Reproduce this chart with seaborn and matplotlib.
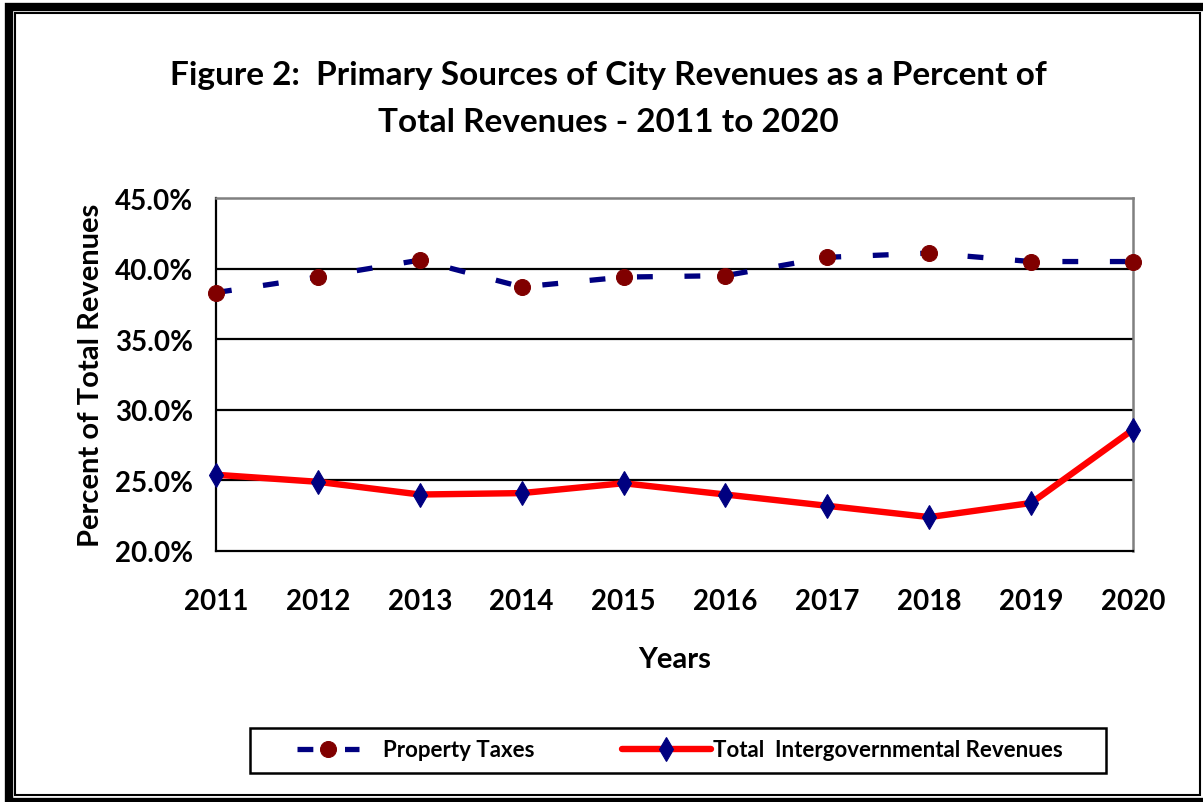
import pandas as pd
import matplotlib.pyplot as plt
import seaborn as sns
from matplotlib.patches import Rectangle
from matplotlib.ticker import PercentFormatter

# Values
years = [2011, 2012, 2013, 2014, 2015, 2016, 2017, 2018, 2019, 2020]
property_taxes = [38.3, 39.4, 40.6, 38.7, 39.4, 39.5, 40.8, 41.1, 40.5, 40.5]
intergov = [25.4, 24.9, 24.0, 24.1, 24.8, 24.0, 23.2, 22.4, 23.4, 28.6]
y_ticks = [20, 25, 30, 35, 40, 45]

df = pd.DataFrame({'year': years, 'prop': property_taxes, 'inter': intergov})

sns.set_style('white')
plt.rcParams['font.family'] = ['Lato', 'DejaVu Sans']
plt.rcParams['font.weight'] = 'bold'
for key in ['text.color', 'axes.labelcolor', 'xtick.color', 'ytick.color']:
    plt.rcParams[key] = 'black'

W, H = 1203, 803
fig = plt.figure(figsize=(W / 100, H / 100), dpi=100)
ax = fig.add_axes([216 / W, 1 - 552 / H, (1133 - 216) / W, (552 - 199) / H])

# Plot
sns.lineplot(data=df, x='year', y='prop', ax=ax, color='#000080', linewidth=3.8,
             linestyle=(0, (3, 6)), marker='o', markersize=11.5,
             markerfacecolor='#800000', markeredgecolor='#800000',
             label='Property Taxes', zorder=4, clip_on=False)
sns.lineplot(data=df, x='year', y='inter', ax=ax, color='#ff0000', linewidth=4.6,
             marker='d', markersize=12.5, markerfacecolor='#000080',
             markeredgecolor='#000080', markeredgewidth=0.8,
             label='Total  Intergovernmental Revenues', zorder=4, clip_on=False)

ax.set_xlim(years[0], years[-1])
ax.set_ylim(y_ticks[0], y_ticks[-1])
ax.set_xticks(years)
ax.set_yticks(y_ticks)
ax.yaxis.set_major_formatter(PercentFormatter(decimals=1))
for v in y_ticks[1:-1]:
    ax.axhline(v, color='black', linewidth=1.6, zorder=1)

for side in ['left', 'bottom']:
    ax.spines[side].set_color('black')
    ax.spines[side].set_linewidth(1.6)
for side in ['top', 'right']:
    ax.spines[side].set_color('#808080')
    ax.spines[side].set_linewidth(1.8)
ax.tick_params(axis='both', direction='out', width=1.6, color='black', labelsize=20)
ax.tick_params(axis='y', length=6.5, pad=10)
ax.tick_params(axis='x', length=8, pad=19)
for lab in ax.get_xticklabels() + ax.get_yticklabels():
    lab.set_fontweight('bold')

ax.set_xlabel('Years', fontsize=21, fontweight='bold', labelpad=23)
ax.set_ylabel('Percent of Total Revenues', fontsize=21, fontweight='bold', labelpad=8)

fig.text(608 / W, 1 - 75 / H, 'Figure 2:  Primary Sources of City Revenues as a Percent of',
         ha='center', va='center', fontsize=24, fontweight='bold')
fig.text(608 / W, 1 - 123 / H, 'Total Revenues - 2011 to 2020',
         ha='center', va='center', fontsize=24, fontweight='bold')

# legend: one frame, two entries with their own handle lengths
handles, labels = ax.get_legend_handles_labels()
ax.get_legend().remove()
fig.patches.append(Rectangle((250 / W, 1 - 774 / H), (1106 - 250) / W, (774 - 729) / H,
                             transform=fig.transFigure, fill=False,
                             edgecolor='black', linewidth=1.8))
fig.legend([handles[0]], [labels[0]], loc='center left',
           bbox_to_anchor=(297 / W, 1 - 751 / H), frameon=False,
           handlelength=2.8, handletextpad=1.05, borderpad=0, borderaxespad=0,
           prop={'weight': 'bold', 'size': 16})
fig.legend([handles[1]], [labels[1]], loc='center left',
           bbox_to_anchor=(622 / W, 1 - 751 / H), frameon=False,
           handlelength=4.0, handletextpad=0.1, borderpad=0, borderaxespad=0,
           prop={'weight': 'bold', 'size': 16})

# double frame around the whole chart
fig.patches.append(Rectangle((8.5 / W, 1 - 802.5 / H), (1207 - 8.5) / W, (802.5 - 7.5) / H,
                             transform=fig.transFigure, fill=False,
                             edgecolor='black', linewidth=6))
fig.patches.append(Rectangle((15 / W, 1 - 796 / H), (1200 - 15) / W, (796 - 14) / H,
                             transform=fig.transFigure, fill=False,
                             edgecolor='black', linewidth=1.5))

fig.savefig('out.png', dpi=100)
